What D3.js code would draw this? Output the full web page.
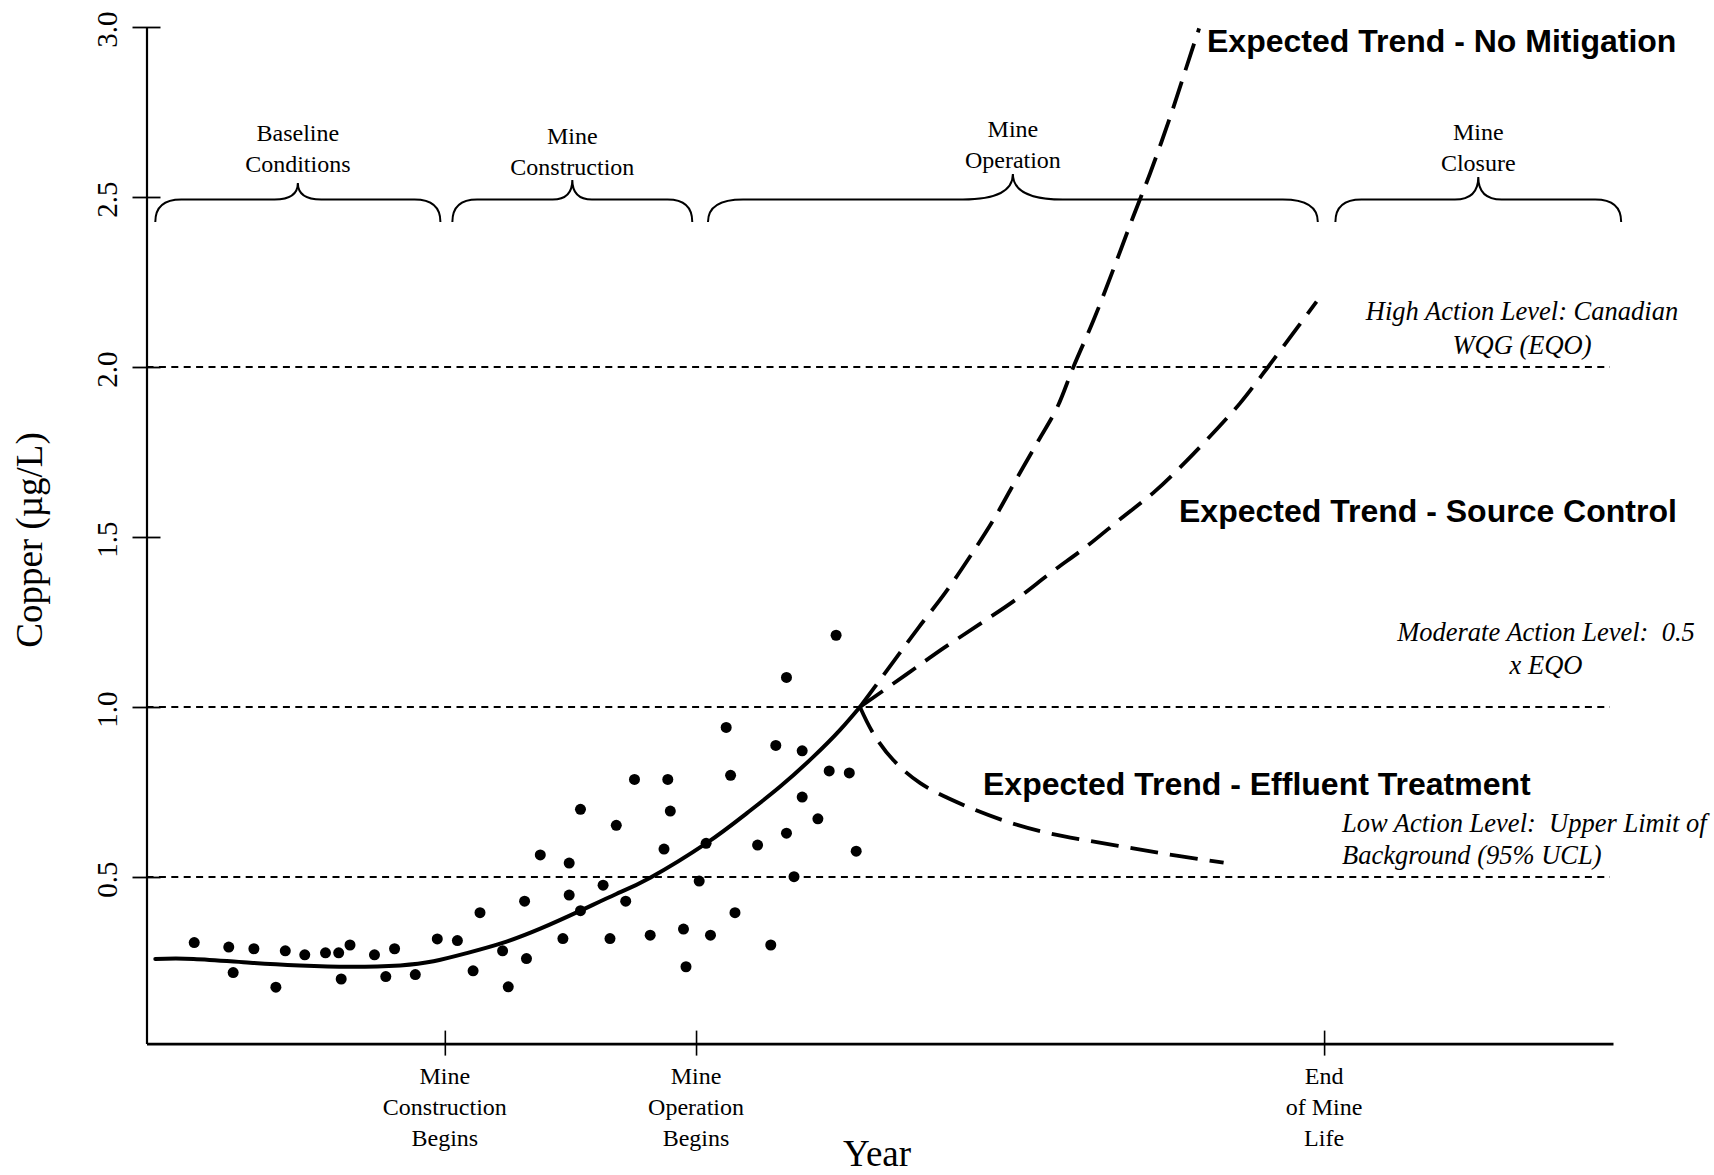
<!DOCTYPE html>
<html>
<head>
<meta charset="utf-8">
<script src="https://cdn.jsdelivr.net/npm/d3@7"></script>
<style>
  html, body { margin: 0; padding: 0; background: #fff; }
  svg { display: block; }
</style>
</head>
<body>
<svg id="chart" width="1714" height="1175"></svg>
<script>
// ---- Data (years relative to the start of mine construction; copper in µg/L) ----
const yTicks = [0.5, 1.0, 1.5, 2.0, 2.5, 3.0];

const milestoneYears = [0, 4, 14];
const milestoneLabels = [
  ["Mine", "Construction", "Begins"],
  ["Mine", "Operation", "Begins"],
  ["End", "of Mine", "Life"]
];

const phaseLabels = [
  ["Baseline", "Conditions"],
  ["Mine", "Construction"],
  ["Mine", "Operation"],
  ["Mine", "Closure"]
];
const phaseStart = [-4.61, 0.12, 4.19, 14.18];
const phaseEnd   = [-0.07, 3.94, 13.90, 18.73];

const actionLevels = [2.0, 1.0, 0.5];
const actionLabels = [
  ["High Action Level: Canadian", "WQG (EQO)"],
  ["Moderate Action Level:  0.5", "x EQO"],
  ["Low Action Level:  Upper Limit of", "Background (95% UCL)"]
];

const obsYear = [-3.99,-3.44,-3.37,-3.04,-2.69,-2.54,-2.23,-1.90,-1.69,-1.65,-1.51,-1.12,-0.94,-0.80,-0.47,-0.12,0.20,0.45,0.56,0.92,1.01,
  1.27,1.30,1.52,1.88,1.98,1.98,2.16,2.16,2.52,2.63,2.73,2.88,3.02,3.27,3.49,3.55,3.59,3.80,3.84,4.05,4.16,4.23,4.48,4.55,4.62,4.98,
  5.19,5.27,5.44,5.44,5.56,5.69,5.69,5.94,6.12,6.23,6.44,6.55];
const obsCopper = [0.307,0.294,0.219,0.289,0.176,0.283,0.271,0.277,0.277,0.200,0.300,0.271,0.207,0.289,0.213,0.318,0.313,0.224,0.395,0.283,0.177,
  0.429,0.260,0.565,0.319,0.541,0.447,0.699,0.401,0.476,0.319,0.652,0.429,0.787,0.329,0.582,0.787,0.694,0.347,0.236,0.488,0.599,0.329,0.940,0.799,0.395,0.594,
  0.300,0.887,1.087,0.629,0.501,0.871,0.735,0.671,0.812,1.211,0.806,0.576];

// fitted trend through the monitoring record
const trendYear   = [-4.61,-4.00,-3.10,-2.31,-1.51,-0.71,-0.18,0.35,0.92,1.52,2.16,2.73,3.27,4.16,4.81,5.34,5.87,6.29,6.61];
const trendCopper = [0.259,0.259,0.248,0.240,0.236,0.240,0.252,0.276,0.306,0.348,0.401,0.450,0.498,0.599,0.688,0.766,0.854,0.932,1.0];

// projected trends
const noMitYear   = [6.61,7.14,7.54,7.96,8.36,8.75,9.10,9.45,9.75,10.01,10.33,10.64,10.96,11.23,11.55,11.81,12.01];
const noMitCopper = [1.0,1.133,1.233,1.334,1.442,1.555,1.670,1.783,1.881,2.001,2.138,2.285,2.442,2.570,2.736,2.883,2.996];

const sourceYear   = [6.61,7.35,7.94,8.51,9.10,9.65,10.21,10.77,11.31,11.81,12.29,12.66,13.03,13.35,13.88];
const sourceCopper = [1.0,1.096,1.173,1.243,1.317,1.395,1.471,1.555,1.635,1.724,1.817,1.893,1.981,2.060,2.192];

const effluentYear   = [6.61,6.82,7.14,7.57,8.28,8.95,9.61,10.27,10.96,11.65,12.40];
const effluentCopper = [1.0,0.923,0.844,0.776,0.710,0.663,0.629,0.606,0.584,0.563,0.542];

const trendLabels = [
  "Expected Trend - No Mitigation",
  "Expected Trend - Source Control",
  "Expected Trend - Effluent Treatment"
];

// ---- Drawing ----
const SERIF = '"Liberation Serif", "Times New Roman", Times, serif';
const SANS = '"Liberation Sans", Arial, Helvetica, sans-serif';

const svg = d3.select("#chart");
svg.append("rect").attr("width", 1714).attr("height", 1175).attr("fill", "#fff");

const x = d3.scaleLinear().domain([-4.75, 18.6]).range([146.5, 1613]);
const y = d3.scaleLinear().domain([0.01, 3]).range([1043.6, 27]);

// action-level reference lines
svg.append("g").selectAll("line").data(actionLevels).join("line")
  .attr("x1", x.range()[0]).attr("x2", 1610)
  .attr("y1", d => y(d)).attr("y2", d => y(d))
  .attr("stroke", "#000").attr("stroke-width", 1.8)
  .attr("stroke-dasharray", "7,5.4");

// y axis
const gy = svg.append("g")
  .attr("transform", `translate(${x.range()[0]},0)`)
  .call(d3.axisLeft(y).tickValues(yTicks).tickSize(14).tickSizeOuter(0).tickFormat(d3.format(".1f")))
  .attr("font-family", SERIF).attr("font-size", 29);
gy.select(".domain").attr("stroke", "#000").attr("stroke-width", 2.2);
gy.selectAll(".tick line").attr("x1", 14).attr("x2", -14).attr("stroke", "#000").attr("stroke-width", 1.8);
gy.selectAll(".tick text")
  .attr("x", null).attr("dy", null)
  .attr("text-anchor", "middle")
  .attr("transform", "translate(-30,2) rotate(-90)")
  .attr("fill", "#000");

// x axis
const gx = svg.append("g")
  .attr("transform", `translate(0,${y(0.01)})`)
  .call(d3.axisBottom(x).tickValues(milestoneYears).tickSize(12).tickSizeOuter(0).tickFormat(""));
gx.select(".domain").attr("stroke", "#000").attr("stroke-width", 2.6);
gx.selectAll(".tick line").attr("y1", -13).attr("y2", 12).attr("stroke", "#000").attr("stroke-width", 1.6);

const mLab = svg.append("g").attr("font-family", SERIF).attr("font-size", 24).attr("text-anchor", "middle");
milestoneYears.forEach((yr, i) => {
  milestoneLabels[i].forEach((line, j) => {
    mLab.append("text").attr("x", x(yr)).attr("y", 1084 + j * 31).text(line);
  });
});

// axis titles
svg.append("text")
  .attr("transform", "translate(42,540) rotate(-90)")
  .attr("text-anchor", "middle")
  .attr("font-family", SERIF).attr("font-size", 37)
  .text("Copper (\u00B5g/L)");
svg.append("text")
  .attr("x", 877).attr("y", 1166)
  .attr("text-anchor", "middle")
  .attr("font-family", SERIF).attr("font-size", 37)
  .text("Year");

// phase braces
function bracePath(x0, x1, yEnd, yFlat, yTip, re, rc) {
  const xc = (x0 + x1) / 2;
  const k = yFlat - (yFlat - yTip) * 0.3;
  return `M${x0},${yEnd}` +
    `C${x0},${yFlat + (yEnd - yFlat) * 0.3} ${x0 + re * 0.35},${yFlat} ${x0 + re},${yFlat}` +
    `L${xc - rc},${yFlat}` +
    `C${xc - rc * 0.35},${yFlat} ${xc},${k} ${xc},${yTip}` +
    `C${xc},${k} ${xc + rc * 0.35},${yFlat} ${xc + rc},${yFlat}` +
    `L${x1 - re},${yFlat}` +
    `C${x1 - re * 0.35},${yFlat} ${x1},${yFlat + (yEnd - yFlat) * 0.3} ${x1},${yEnd}`;
}
const braceTip = [183, 180, 174, 177];
const braceLabelY = [141, 144, 137, 140];
const braceG = svg.append("g");
phaseLabels.forEach((lab, i) => {
  const x0 = x(phaseStart[i]), x1 = x(phaseEnd[i]);
  const w = x1 - x0;
  braceG.append("path")
    .attr("d", bracePath(x0, x1, 222, 199.5, braceTip[i], 18 + w * 0.028, w * 0.082))
    .attr("fill", "none").attr("stroke", "#000").attr("stroke-width", 2);
  const cx = (x0 + x1) / 2;
  lab.forEach((line, j) => {
    braceG.append("text")
      .attr("x", cx).attr("y", braceLabelY[i] + j * 31)
      .attr("text-anchor", "middle")
      .attr("font-family", SERIF).attr("font-size", 24)
      .text(line);
  });
});

// observations
svg.append("g").selectAll("circle").data(obsYear.map((d, i) => [d, obsCopper[i]])).join("circle")
  .attr("cx", d => x(d[0])).attr("cy", d => y(d[1]))
  .attr("r", 5.5).attr("fill", "#000");

// trend lines
const zip = (a, b) => a.map((d, i) => [d, b[i]]);
const smooth = d3.line().x(d => x(d[0])).y(d => y(d[1])).curve(d3.curveNatural);
const line = d3.line().x(d => x(d[0])).y(d => y(d[1])).curve(d3.curveCatmullRom);

svg.append("path").attr("d", smooth(zip(trendYear, trendCopper)))
  .attr("fill", "none").attr("stroke", "#000").attr("stroke-width", 4)
  .attr("stroke-linecap", "round");

[[noMitYear, noMitCopper], [sourceYear, sourceCopper], [effluentYear, effluentCopper]].forEach(([a, b]) => {
  svg.append("path").attr("d", line(zip(a, b)))
    .attr("fill", "none").attr("stroke", "#000").attr("stroke-width", 3.8)
    .attr("stroke-dasharray", "28,12");
});

// trend labels
const tl = [[1207, 52], [1179, 522], [983, 795]];
trendLabels.forEach((t, i) => {
  svg.append("text")
    .attr("x", tl[i][0]).attr("y", tl[i][1])
    .attr("font-family", SANS).attr("font-weight", "bold").attr("font-size", 32)
    .text(t);
});

// action-level captions
const al = svg.append("g").attr("font-family", SERIF).attr("font-style", "italic").attr("font-size", 26.5)
  .style("white-space", "pre");
const alPos = [
  { anchor: "middle", x: 1522, y: [320, 354] },
  { anchor: "middle", x: 1546, y: [641, 674] },
  { anchor: "start",  x: 1342, y: [832, 864] }
];
actionLabels.forEach((lines, i) => {
  lines.forEach((t, j) => {
    al.append("text")
      .attr("x", alPos[i].x).attr("y", alPos[i].y[j])
      .attr("text-anchor", alPos[i].anchor)
      .attr("xml:space", "preserve")
      .text(t);
  });
});
</script>
</body>
</html>
